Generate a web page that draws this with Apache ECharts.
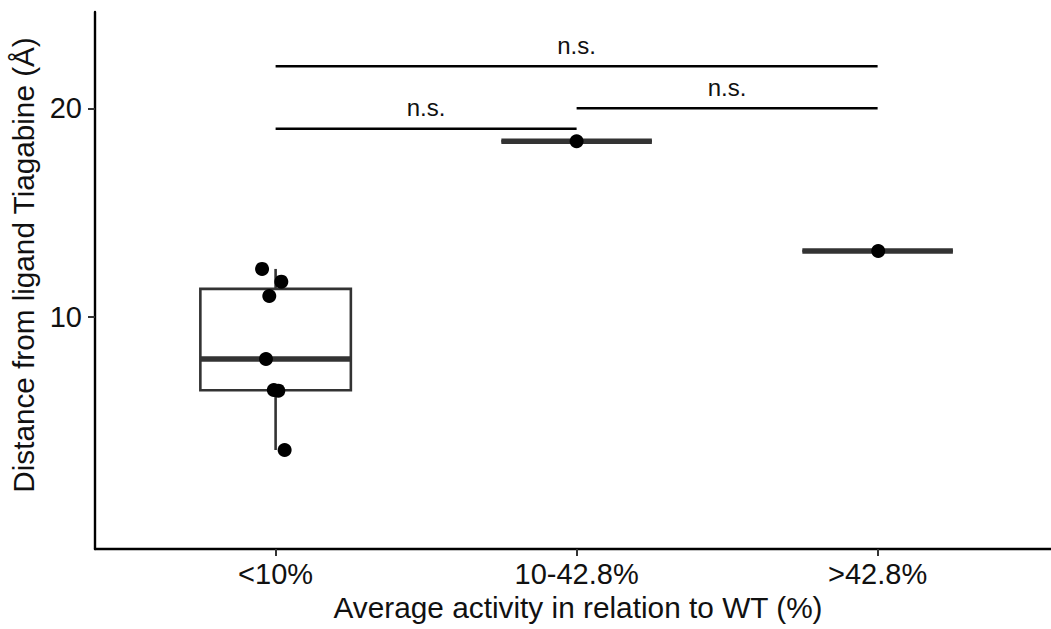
<!DOCTYPE html>
<html><head><meta charset="utf-8">
<script src="https://cdn.jsdelivr.net/npm/echarts@6/dist/echarts.min.js"></script>
<style>html,body{margin:0;padding:0;background:#fff}#c{width:1051px;height:629px}</style>
</head><body><div id="c"></div>
<script>
// ---- data ----
const categories = ['<10%', '10-42.8%', '>42.8%'];
const group1Values = [12.29, 11.68, 10.99, 7.97, 6.48, 6.45, 3.60];
const group1Jitter = [-0.045, 0.019, -0.021, -0.032, -0.006, 0.009, 0.030];
const group2Values = [18.42];
const group2Jitter = [0];
const group3Values = [13.15];
const group3Jitter = [0.002];
const yTicks = [10, 20];
const comparisonFrom = [0, 1, 0];
const comparisonTo = [1, 2, 2];
const comparisonY = [19.02, 20.0, 22.02];
const comparisonLabels = ['n.s.', 'n.s.', 'n.s.'];
const xTitle = 'Average activity in relation to WT (%)';
const yTitle = 'Distance from ligand Tiagabine (Å)';

// ---- derived ----
const groupValues = [group1Values, group2Values, group3Values];
const groupJitter = [group1Jitter, group2Jitter, group3Jitter];
function quantile(sorted, p) {
  const h = (sorted.length - 1) * p;
  const lo = Math.floor(h), hi = Math.ceil(h);
  return sorted[lo] + (sorted[hi] - sorted[lo]) * (h - lo);
}
const boxData = groupValues.map((vals, i) => {
  const s = vals.slice().sort((a, b) => a - b);
  const q1 = quantile(s, 0.25), med = quantile(s, 0.5), q3 = quantile(s, 0.75);
  const iqr = q3 - q1;
  const lo = s.filter(v => v >= q1 - 1.5 * iqr)[0];
  const hiArr = s.filter(v => v <= q3 + 1.5 * iqr);
  const hi = hiArr[hiArr.length - 1];
  return [i + 1, lo, q1, med, q3, hi];
});
const pointData = [];
groupValues.forEach((vals, i) => vals.forEach((v, j) => pointData.push([i + 1 + groupJitter[i][j], v])));
const bracketData = comparisonY.map((y, i) => [comparisonFrom[i] + 1, comparisonTo[i] + 1, y, comparisonLabels[i]]);

const FONT = '"Liberation Sans", Arial, Helvetica, sans-serif';
const chart = echarts.init(document.getElementById('c'), null, {renderer: 'svg'});
chart.setOption({
  animation: false,
  backgroundColor: '#fff',
  grid: {left: 95, right: 0, top: 12, bottom: 80, containLabel: false, outerBoundsMode: 'none'},
  xAxis: {
    type: 'value', min: 0.4, max: 3.576,
    axisLine: {show: true, onZero: false, lineStyle: {color: '#000', width: 2.4}},
    axisTick: {show: true, customValues: [1, 2, 3], length: 7, lineStyle: {color: '#333', width: 2}},
    axisLabel: {customValues: [1, 2, 3], formatter: v => categories[Math.round(v) - 1],
      fontSize: 29, fontFamily: FONT, color: '#111', margin: 10},
    splitLine: {show: false},
    name: xTitle, nameLocation: 'middle', nameGap: 33,
    nameTextStyle: {fontSize: 29.8, fontFamily: FONT, color: '#111', padding: [0, 0, 0, 10]}
  },
  yAxis: {
    type: 'value', min: -1.15, max: 24.62,
    axisLine: {show: true, onZero: false, lineStyle: {color: '#000', width: 2.4}},
    axisTick: {show: true, customValues: yTicks, length: 7, lineStyle: {color: '#333', width: 2}},
    axisLabel: {customValues: yTicks, fontSize: 29, fontFamily: FONT, color: '#111', margin: 13},
    splitLine: {show: false},
    name: yTitle, nameLocation: 'middle', nameGap: 55, nameRotate: 90,
    nameTextStyle: {fontSize: 29.7, fontFamily: FONT, color: '#111', padding: [0, 0, 0, 31]}
  },
  series: [
    {
      type: 'custom', data: boxData, z: 2,
      renderItem: function (params, api) {
        const x = api.value(0);
        const w = api.size([0.5, 0])[0];
        const pMin = api.coord([x, api.value(1)]);
        const pQ1 = api.coord([x, api.value(2)]);
        const pMed = api.coord([x, api.value(3)]);
        const pQ3 = api.coord([x, api.value(4)]);
        const pMax = api.coord([x, api.value(5)]);
        const stroke = {stroke: '#333', lineWidth: 2.6, fill: null};
        return {type: 'group', children: [
          {type: 'line', shape: {x1: pMax[0], y1: pMax[1], x2: pQ3[0], y2: pQ3[1]}, style: stroke},
          {type: 'line', shape: {x1: pQ1[0], y1: pQ1[1], x2: pMin[0], y2: pMin[1]}, style: stroke},
          {type: 'rect', shape: {x: pQ3[0] - w / 2, y: pQ3[1], width: w, height: pQ1[1] - pQ3[1]},
            style: {stroke: '#333', lineWidth: 2.6, fill: '#fff'}},
          {type: 'line', shape: {x1: pMed[0] - w / 2, y1: pMed[1], x2: pMed[0] + w / 2, y2: pMed[1]},
            style: {stroke: '#333', lineWidth: 5.5}}
        ]};
      }
    },
    {
      type: 'scatter', data: pointData, symbolSize: 14, z: 3,
      itemStyle: {color: '#000', opacity: 1}
    },
    {
      type: 'custom', data: bracketData, z: 4,
      renderItem: function (params, api) {
        const a = api.coord([api.value(0), api.value(2)]);
        const b = api.coord([api.value(1), api.value(2)]);
        return {type: 'group', children: [
          {type: 'line', shape: {x1: a[0], y1: a[1], x2: b[0], y2: b[1]}, style: {stroke: '#000', lineWidth: 2.6}},
          {type: 'text', style: {text: api.value(3), x: (a[0] + b[0]) / 2, y: a[1] - 9,
            align: 'center', verticalAlign: 'bottom', fontSize: 24, fontFamily: FONT, fill: '#111'}}
        ]};
      }
    }
  ]
});
</script></body></html>
